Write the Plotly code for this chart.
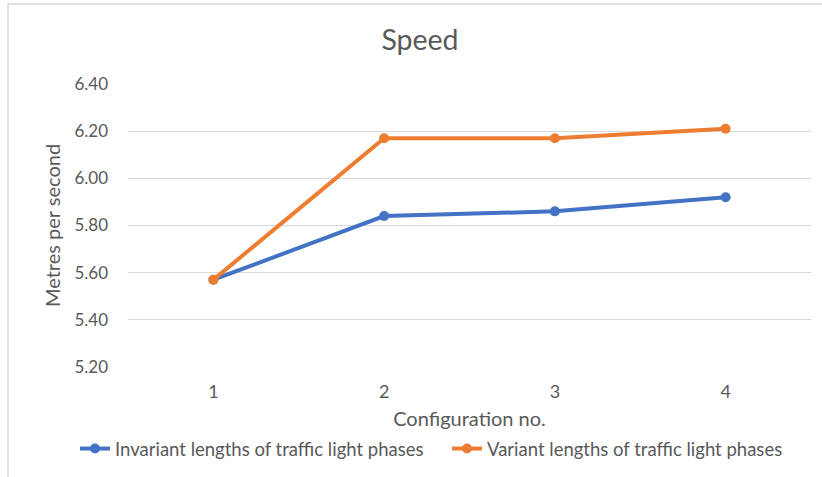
import plotly.graph_objects as go

# Average speed per configuration, in metres per second
configurations = ["1", "2", "3", "4"]
invariant_speed = [5.57, 5.84, 5.86, 5.92]
variant_speed = [5.57, 6.17, 6.17, 6.21]
y_ticks = [5.20, 5.40, 5.60, 5.80, 6.00, 6.20, 6.40]

FONT = "Lato, Liberation Sans, sans-serif"
TEXT = "#595959"

W, H = 822, 477
L, R, T, B = 128, 11, 84, 110
pw, ph = W - L - R, H - T - B


def px_x(px):
    return (px - L) / pw


def px_y(py):
    return (T + ph - py) / ph


fig = go.Figure()
fig.add_trace(go.Scatter(
    x=configurations, y=invariant_speed, mode="lines+markers",
    name="Invariant lengths of traffic light phases",
    line=dict(color="#4472C4", width=4),
    marker=dict(color="#4472C4", size=10),
    legend="legend", showlegend=True,
))
fig.add_trace(go.Scatter(
    x=configurations, y=variant_speed, mode="lines+markers",
    name="Variant lengths of traffic light phases",
    line=dict(color="#ED7D31", width=4),
    marker=dict(color="#ED7D31", size=10),
    legend="legend2", showlegend=True,
))

# chart frame, left/top edges visible
fig.add_shape(
    type="rect", xref="paper", yref="paper",
    x0=px_x(8), x1=px_x(W + 20),
    y0=px_y(H + 20), y1=px_y(4),
    line=dict(color="#D9D9D9", width=1.5), fillcolor="rgba(0,0,0,0)",
    layer="below",
)

legend_style = dict(
    orientation="h", xanchor="left", yanchor="middle",
    xref="container", yref="container", y=1 - 449 / H,
    font=dict(size=18.5, color=TEXT), itemwidth=30,
    bgcolor="rgba(0,0,0,0)", visible=True,
)

fig.update_layout(
    width=W, height=H, showlegend=True,
    margin=dict(l=L, r=R, t=T, b=B, autoexpand=False),
    paper_bgcolor="white", plot_bgcolor="white",
    font=dict(family=FONT, color=TEXT, size=18),
    title=dict(text="Speed", x=420 / W, xanchor="center", y=1 - 40 / H, yanchor="middle",
               font=dict(size=28.5, color=TEXT, family=FONT)),
    xaxis=dict(
        type="category", range=[-0.5, 3.5],
        showgrid=False, showline=False, zeroline=False, ticks="",
        tickfont=dict(size=18, color=TEXT), ticklabelstandoff=12,
        title=dict(text="Configuration no.", font=dict(size=20, color=TEXT), standoff=11),
    ),
    yaxis=dict(
        range=[5.20, 6.40], tickvals=y_ticks, tickformat=".2f",
        showgrid=True, gridcolor="#D9D9D9", gridwidth=1,
        showline=False, zeroline=False, ticks="",
        tickfont=dict(size=17, color=TEXT), ticklabelstandoff=19,
        title=dict(text="Metres per second", font=dict(size=20, color=TEXT), standoff=8),
    ),
    legend=dict(x=75 / W, **legend_style),
    legend2=dict(x=447 / W, **legend_style),
)

fig.write_html("out.html")
